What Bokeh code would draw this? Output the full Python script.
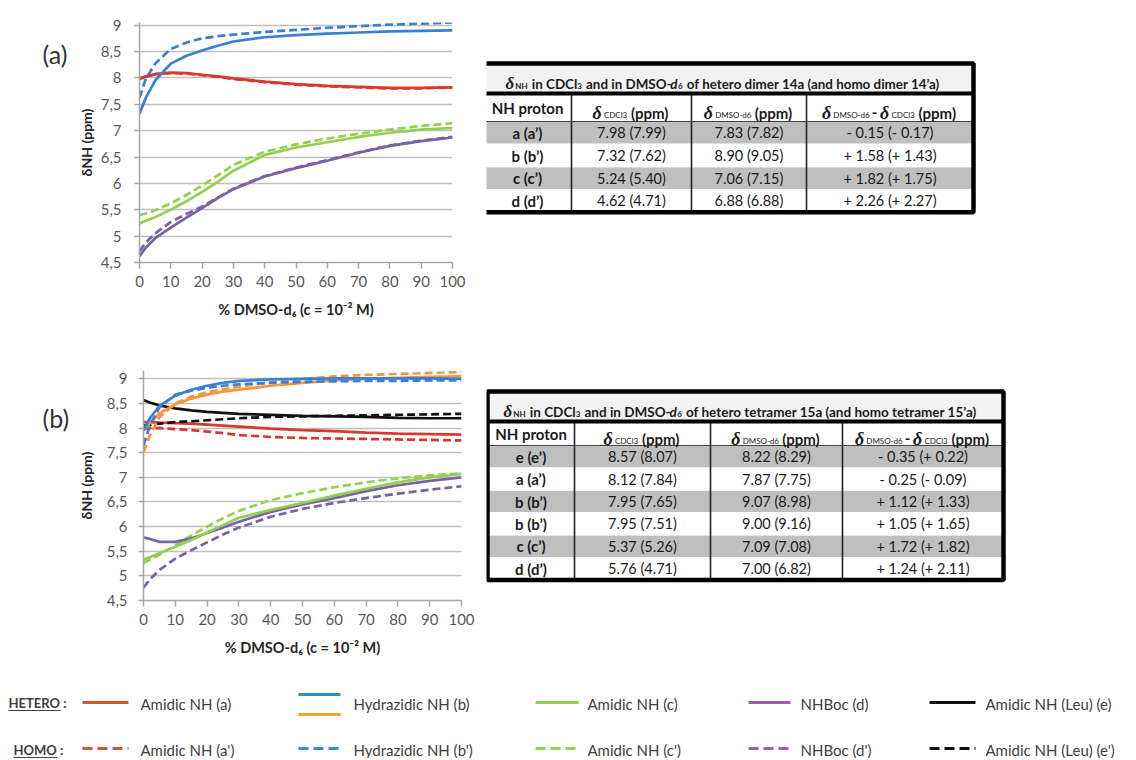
from bokeh.plotting import figure
from bokeh.models import Range1d, FixedTicker, CustomJSTickFormatter
from bokeh.layouts import column, row
from bokeh.embed import file_html
from bokeh.resources import INLINE
from bokeh.core.properties import value

SANS = "Lato"
SERIF = "Liberation Serif"

# ---------------- data ----------------
pct_dmso = [0, 2, 5, 10, 15, 20, 25, 30, 40, 50, 60, 70, 80, 90, 100]
y_ticks = [4.5, 5, 5.5, 6, 6.5, 7, 7.5, 8, 8.5, 9]
x_ticks = [0, 10, 20, 30, 40, 50, 60, 70, 80, 90, 100]

# (a) hetero dimer 14a (solid) / homo dimer 14'a (dashed)
a_amid_a = [7.98, 8.02, 8.07, 8.10, 8.09, 8.06, 8.03, 7.99, 7.93, 7.88, 7.85, 7.83, 7.81, 7.81, 7.82]
a_amid_a2 = [7.99, 8.03, 8.07, 8.09, 8.08, 8.05, 8.02, 7.98, 7.92, 7.87, 7.84, 7.82, 7.80, 7.80, 7.82]
a_hydr_b = [7.32, 7.62, 7.95, 8.27, 8.42, 8.52, 8.61, 8.69, 8.77, 8.81, 8.84, 8.86, 8.88, 8.89, 8.90]
a_hydr_b2 = [7.62, 7.98, 8.27, 8.55, 8.67, 8.75, 8.79, 8.82, 8.87, 8.91, 8.95, 8.98, 9.01, 9.03, 9.05]
a_amid_c = [5.24, 5.29, 5.36, 5.50, 5.66, 5.84, 6.03, 6.24, 6.54, 6.68, 6.78, 6.88, 6.96, 7.02, 7.05]
a_amid_c2 = [5.40, 5.43, 5.49, 5.62, 5.78, 5.96, 6.15, 6.35, 6.60, 6.74, 6.85, 6.94, 7.02, 7.09, 7.14]
a_boc_d = [4.62, 4.78, 4.96, 5.16, 5.35, 5.53, 5.72, 5.89, 6.13, 6.29, 6.43, 6.58, 6.71, 6.80, 6.87]
a_boc_d2 = [4.71, 4.88, 5.05, 5.27, 5.42, 5.56, 5.73, 5.90, 6.14, 6.30, 6.44, 6.59, 6.72, 6.81, 6.88]

# (b) hetero tetramer 15a (solid) / homo tetramer 15'a (dashed)
b_leu_e = [8.57, 8.52, 8.46, 8.40, 8.36, 8.33, 8.31, 8.29, 8.27, 8.25, 8.24, 8.23, 8.21, 8.20, 8.20]
b_leu_e2 = [8.05, 8.07, 8.09, 8.12, 8.14, 8.16, 8.18, 8.20, 8.23, 8.24, 8.25, 8.26, 8.27, 8.28, 8.29]
b_amid_a = [8.12, 8.12, 8.11, 8.10, 8.09, 8.07, 8.05, 8.03, 7.99, 7.96, 7.94, 7.91, 7.89, 7.88, 7.87]
b_amid_a2 = [7.98, 8.00, 8.00, 7.98, 7.96, 7.93, 7.90, 7.86, 7.82, 7.80, 7.79, 7.78, 7.77, 7.76, 7.75]
b_hydr_b_blue = [7.95, 8.20, 8.45, 8.66, 8.78, 8.86, 8.92, 8.96, 8.99, 9.00, 9.01, 9.01, 9.01, 9.01, 9.00]
b_hydr_b2_blue = [7.65, 8.05, 8.42, 8.68, 8.76, 8.82, 8.86, 8.89, 8.92, 8.94, 8.95, 8.96, 8.96, 8.97, 8.97]
b_hydr_b_orange = [7.95, 8.10, 8.30, 8.48, 8.60, 8.68, 8.74, 8.78, 8.86, 8.92, 8.97, 9.00, 9.02, 9.04, 9.05]
b_hydr_b2_orange = [7.51, 7.85, 8.22, 8.50, 8.64, 8.73, 8.79, 8.84, 8.93, 9.00, 9.05, 9.08, 9.10, 9.12, 9.14]
b_amid_c = [5.33, 5.38, 5.46, 5.59, 5.73, 5.88, 6.03, 6.18, 6.34, 6.48, 6.63, 6.77, 6.90, 7.00, 7.07]
b_amid_c2 = [5.26, 5.33, 5.43, 5.62, 5.82, 6.00, 6.17, 6.32, 6.54, 6.68, 6.80, 6.90, 6.98, 7.04, 7.08]
b_boc_d = [5.78, 5.75, 5.69, 5.69, 5.76, 5.87, 5.98, 6.10, 6.30, 6.45, 6.58, 6.72, 6.84, 6.93, 7.00]
b_boc_d2 = [4.76, 4.93, 5.12, 5.35, 5.52, 5.68, 5.84, 5.98, 6.20, 6.36, 6.48, 6.58, 6.67, 6.75, 6.82]

# tables
t1_title = ["δ", "NH", "in CDCl", "3", "and in DMSO-", "d", "6", "of hetero dimer 14a (and homo dimer 14’a)"]
t1_rows = ["a (a’)", "b (b’)", "c (c’)", "d (d’)"]
t1_cdcl3 = ["7.98 (7.99)", "7.32 (7.62)", "5.24 (5.40)", "4.62 (4.71)"]
t1_dmso = ["7.83 (7.82)", "8.90 (9.05)", "7.06 (7.15)", "6.88 (6.88)"]
t1_delta = ["- 0.15 (- 0.17)", "+ 1.58 (+ 1.43)", "+ 1.82 (+ 1.75)", "+ 2.26 (+ 2.27)"]

t2_title = ["δ", "NH", "in CDCl", "3", "and in DMSO-", "d", "6", "of hetero tetramer 15a (and homo tetramer 15’a)"]
t2_rows = ["e (e’)", "a (a’)", "b (b’)", "b (b’)", "c (c’)", "d (d’)"]
t2_cdcl3 = ["8.57 (8.07)", "8.12 (7.84)", "7.95 (7.65)", "7.95 (7.51)", "5.37 (5.26)", "5.76 (4.71)"]
t2_dmso = ["8.22 (8.29)", "7.87 (7.75)", "9.07 (8.98)", "9.00 (9.16)", "7.09 (7.08)", "7.00 (6.82)"]
t2_delta = ["- 0.35 (+ 0.22)", "- 0.25 (- 0.09)", "+ 1.12 (+ 1.33)", "+ 1.05 (+ 1.65)", "+ 1.72 (+ 1.82)", "+ 1.24 (+ 2.11)"]

col_header_first = "NH proton"
sub_cdcl3 = "CDCl3"
sub_dmso = "DMSO-d6"

legend_hetero = ["Amidic NH (a)", "Hydrazidic NH (b)", "Amidic NH (c)", "NHBoc (d)", "Amidic NH (Leu) (e)"]
legend_homo = ["Amidic NH (a')", "Hydrazidic NH (b')", "Amidic NH (c')", "NHBoc (d')", "Amidic NH (Leu) (e')"]

# ---------------- styles ----------------
RED, BLUE, ORANGE, GREEN, PURPLE, BLACK = "#d9382c", "#3a7fd4", "#f7963c", "#92d050", "#7b62a3", "#111111"
L_RED, L_BLUE, L_ORANGE, L_GREEN, L_PURPLE = "#cd5b2a", "#2e8fd6", "#f79a3a", "#92d050", "#9c5fa8"
DASH = "8 4"
TXT = "#1a1a1a"

CW = {' ': .2, '.': .23, ',': .23, ':': .23, '(': .3, ')': .3, '-': .34, "'": .2, '’': .2,
      'a': .5, 'b': .56, 'c': .46, 'd': .56, 'e': .52, 'f': .32, 'g': .5, 'h': .56, 'i': .24, 'j': .24,
      'k': .5, 'l': .24, 'm': .84, 'n': .56, 'o': .56, 'p': .56, 'q': .56, 'r': .37, 's': .42, 't': .36,
      'u': .56, 'v': .5, 'w': .76, 'x': .49, 'y': .5, 'z': .45,
      'A': .68, 'B': .64, 'C': .66, 'D': .74, 'E': .56, 'F': .54, 'G': .72, 'H': .76, 'I': .28, 'K': .66,
      'L': .5, 'M': .9, 'N': .76, 'O': .8, 'P': .6, 'R': .63, 'S': .52, 'T': .58, 'U': .73}


def tw(s, size, bold=False, font=SANS):
    if font == SERIF:
        return 0.52 * size * len(s)
    w = 0.0
    for ch in s:
        w += 0.58 if ch.isdigit() else CW.get(ch, .55)
    return w * size * (1.03 if bold else 1.0)


# ---------------- page geometry (page pixels) ----------------
TAG_W, CHART_W, TABLE_W = 74, 412, 644
R1_H, R2_H, LEG_H = 348, 325, 85
R1_T, R2_T, LEG_T = 0, R1_H, R1_H + R2_H
A_MT, A_MB = 22, 86
B_MT, B_MB = 22, 73


def chart(series, ymax, ml, mr, mt, mb, h, ylab_standoff, lab_standoff):
    p = figure(width=CHART_W, height=h, x_range=Range1d(0, 100), y_range=Range1d(4.5, ymax),
               output_backend="svg", toolbar_location=None,
               min_border_left=ml, min_border_right=mr, min_border_top=mt, min_border_bottom=mb)
    p.outline_line_color = None
    p.xgrid.visible = False
    p.ygrid.grid_line_color = "#bfbfbf"
    p.ygrid.grid_line_width = 1.5
    p.xaxis.ticker = FixedTicker(ticks=x_ticks)
    p.yaxis.ticker = FixedTicker(ticks=y_ticks)
    p.yaxis.formatter = CustomJSTickFormatter(code="return tick.toString().replace('.', ',');")
    for ax in (p.xaxis[0], p.yaxis[0]):
        ax.axis_line_color = "#a6a6a6"
        ax.axis_line_width = 1.5
        ax.major_tick_line_color = "#a6a6a6"
        ax.major_tick_line_width = 1.5
        ax.major_tick_in = 0
        ax.minor_tick_line_color = None
        ax.major_label_text_font = SANS
        ax.major_label_text_font_size = "15px"
        ax.major_label_text_color = "#595959"
        ax.axis_label_text_font = SANS
        ax.axis_label_text_font_style = "bold"
        ax.axis_label_text_color = "#262626"
    p.xaxis.major_tick_out = 6
    p.yaxis.major_tick_out = 5
    p.xaxis.major_label_standoff = 7
    p.yaxis.major_label_standoff = lab_standoff
    p.xaxis.axis_label = "% DMSO-d₆ (c = 10⁻² M)"
    p.xaxis.axis_label_text_font_size = "14.5px"
    p.xaxis.axis_label_standoff = 11
    p.yaxis.axis_label = "δNH (ppm)"
    p.yaxis.axis_label_text_font_size = "14px"
    p.yaxis.axis_label_standoff = ylab_standoff
    for ys, color, dash in series:
        p.line(pct_dmso, ys, line_color=color, line_width=2.7, line_dash=dash)
    return p


def blank(xr, yr, w, h, mt=0, mb=0):
    p = figure(width=w, height=h, x_range=Range1d(*xr), y_range=Range1d(*yr),
               output_backend="svg", toolbar_location=None, min_border=0,
               min_border_top=mt, min_border_bottom=mb,
               x_axis_location=None, y_axis_location=None)
    p.grid.visible = False
    p.outline_line_color = None
    return p


def put(p, x, y, t, size, style="normal", font=SANS, align="center", baseline="middle", color=TXT):
    p.text(x=[x], y=[y], text=[t], text_font=value(font), text_font_style=style,
           text_font_size=f"{size:.1f}px", text_align=align, text_baseline=baseline, text_color=color)


def compose(p, cx, base, parts, align="center"):
    # parts: (text, font, style, size, dy, gap_before)
    widths = [tw(t, s, "bold" in st, f) for t, f, st, s, dy, g in parts]
    total = sum(widths) + sum(g for *_, g in parts)
    x = cx - total / 2 if align == "center" else cx
    for (t, f, st, s, dy, g), wdt in zip(parts, widths):
        x += g
        put(p, x, base + dy, t, s, st, f, "left", "alphabetic")
        x += wdt


def header_parts(kind):
    big = 15
    d = ("δ", SERIF, "bold italic", 18, 0, 0)
    if kind == "c":
        return [d, (sub_cdcl3, SANS, "normal", 8, 2, 2), ("(ppm)", SANS, "bold", big, 0, 4)]
    if kind == "d":
        return [d, (sub_dmso, SANS, "normal", 8, 2, 2), ("(ppm)", SANS, "bold", big, 0, 4)]
    return [d, (sub_dmso, SANS, "normal", 8, 2, 2), ("-", SANS, "bold", big, 0, 3),
            ("δ", SERIF, "bold italic", 18, 0, 3), (sub_cdcl3, SANS, "normal", 8, 2, 2),
            ("(ppm)", SANS, "bold", big, 0, 4)]


def draw_table(p, xs, top, sep, hdr, row_h, title, title_x, title_w, labels, c2, c3, c4):
    n = len(labels)
    bottom = hdr + n * row_h
    p.quad(left=[xs[0]], right=[xs[-1]], top=[top], bottom=[sep], fill_color="#f2f2f2", line_color=None)
    p.quad(left=[xs[0]], right=[xs[-1]], top=[sep], bottom=[hdr], fill_color="white", line_color=None)
    tops = [hdr + i * row_h for i in range(n)]
    p.quad(left=[xs[0]] * n, right=[xs[-1]] * n, top=tops, bottom=[t + row_h for t in tops],
           fill_color=["#bfbfbf" if i % 2 == 0 else "white" for i in range(n)],
           line_color="white", line_width=1)
    p.segment(x0=xs[1:-1], y0=[sep] * 3, x1=xs[1:-1], y1=[bottom] * 3, line_color="#222222", line_width=1.6)
    p.segment(x0=[xs[0]], y0=[hdr], x1=[xs[-1]], y1=[hdr], line_color="#444444", line_width=1)
    p.segment(x0=[xs[0]], y0=[sep], x1=[xs[-1]], y1=[sep], line_color="black", line_width=4)
    p.quad(left=[xs[0]], right=[xs[-1]], top=[top], bottom=[bottom], fill_color=None,
           line_color="black", line_width=4.5)
    # title, scaled to the reference width
    main = [2, 4, 5, 7]
    base_parts = [(title[0], SERIF, "bold italic", 17, 0, 0), (title[1], SANS, "bold", 8, 2, 1),
                  (title[2], SANS, "bold", 1, 0, 4), (title[3], SANS, "bold", 8, 2, 0),
                  (title[4], SANS, "bold", 1, 0, 4), (title[5], SANS, "bold italic", 1, 0, 0),
                  (title[6], SANS, "bold", 8, 2, 0), (title[7], SANS, "bold", 1, 0, 4)]
    fixed = sum(g + (0 if i in main else tw(t, s, True, f)) for i, (t, f, st, s, dy, g) in enumerate(base_parts))
    unit = sum(tw(base_parts[i][0], 1, True) for i in main)
    fs = 0.97 * (title_w - fixed) / unit
    parts = [(t, f, st, fs if s == 1 else s, dy, g) for t, f, st, s, dy, g in base_parts]
    compose(p, title_x, (top + sep) / 2 + 5, parts, align="left")
    # header
    hy = (sep + hdr) / 2
    put(p, (xs[0] + xs[1]) / 2, hy, col_header_first, 15, "bold")
    for j, kind in enumerate(["c", "d", "dc"]):
        compose(p, (xs[j + 1] + xs[j + 2]) / 2, hy + 5, header_parts(kind))
    for i in range(n):
        cy = hdr + (i + 0.5) * row_h
        put(p, (xs[0] + xs[1]) / 2, cy, labels[i], 15, "bold")
        put(p, (xs[1] + xs[2]) / 2, cy, c2[i], 14.5)
        put(p, (xs[2] + xs[3]) / 2, cy, c3[i], 14.5)
        put(p, (xs[3] + xs[4]) / 2, cy, c4[i], 14.5)


# ---------------- row 1 ----------------
tag_a = blank((0, TAG_W), (R1_T + R1_H - A_MB, R1_T + A_MT), TAG_W, R1_H, A_MT, A_MB)
put(tag_a, 42, 53, "(a)", 25, align="left", color="#333333")

chart_a = chart([
    (a_amid_c2, GREEN, DASH), (a_amid_c, GREEN, "solid"),
    (a_boc_d2, PURPLE, DASH), (a_boc_d, PURPLE, "solid"),
    (a_amid_a2, RED, DASH), (a_amid_a, RED, "solid"),
    (a_hydr_b2, BLUE, DASH), (a_hydr_b, BLUE, "solid"),
], 9.05, 136 - TAG_W, CHART_W - (136 - TAG_W) - 316, A_MT, A_MB, R1_H, 3, 13)

table_a = blank((TAG_W + CHART_W, TAG_W + CHART_W + TABLE_W), (R1_T + R1_H - A_MB, R1_T + A_MT),
                TABLE_W, R1_H, A_MT, A_MB)
draw_table(table_a, [483, 571, 691, 806, 973], 63, 93, 121, 22.7,
           t1_title, 505, 448, t1_rows, t1_cdcl3, t1_dmso, t1_delta)

# ---------------- row 2 ----------------
tag_b = blank((0, TAG_W), (R2_T + R2_H - B_MB, R2_T + B_MT), TAG_W, R2_H, B_MT, B_MB)
put(tag_b, 42, 417, "(b)", 25, align="left", color="#333333")

chart_b = chart([
    (b_amid_c2, GREEN, DASH), (b_boc_d2, PURPLE, DASH),
    (b_boc_d, PURPLE, "solid"), (b_amid_c, GREEN, "solid"),
    (b_amid_a2, RED, DASH), (b_amid_a, RED, "solid"),
    (b_leu_e2, BLACK, DASH), (b_leu_e, BLACK, "solid"),
    (b_hydr_b_orange, ORANGE, "solid"), (b_hydr_b2_orange, ORANGE, DASH),
    (b_hydr_b_blue, BLUE, "solid"), (b_hydr_b2_blue, BLUE, DASH),
], 9.17, 143 - TAG_W, CHART_W - (143 - TAG_W) - 318, B_MT, B_MB, R2_H, 9, 11)

table_b = blank((TAG_W + CHART_W, TAG_W + CHART_W + TABLE_W), (R2_T + R2_H - B_MB, R2_T + B_MT),
                TABLE_W, R2_H, B_MT, B_MB)
draw_table(table_b, [487, 574, 710, 842, 1003], 391, 421, 445, 22.4,
           t2_title, 503, 489, t2_rows, t2_cdcl3, t2_dmso, t2_delta)

# ---------------- legend ----------------
LW = TAG_W + CHART_W + TABLE_W
leg = blank((0, LW), (LEG_T + LEG_H, LEG_T), LW, LEG_H)
put(leg, 8, 702, "HETERO :", 13, "bold", align="left", color="#404040")
leg.segment(x0=[8], y0=[710], x1=[8 + tw("HETERO", 13, True)], y1=[710], line_color="#404040", line_width=1.2)
put(leg, 13, 749, "HOMO :", 13, "bold", align="left", color="#404040")
leg.segment(x0=[13], y0=[757], x1=[13 + tw("HOMO", 13, True)], y1=[757], line_color="#404040", line_width=1.2)

line_x0 = [82, 298, 535, 748, 929]
line_x1 = [128, 340, 578, 790, 975]
text_x = [140, 353, 587, 800, 985]
hetero_cols = [L_RED, L_BLUE, L_GREEN, L_PURPLE, BLACK]
for i in range(5):
    yy = 694 if i == 1 else 702
    leg.line([line_x0[i], line_x1[i]], [yy, yy], line_color=hetero_cols[i], line_width=3)
    put(leg, text_x[i], 703, legend_hetero[i], 15, align="left", color="#404040")
    leg.line([line_x0[i], line_x1[i]], [748, 748], line_color=hetero_cols[i], line_width=3, line_dash="10 5")
    put(leg, text_x[i], 749, legend_homo[i], 15, align="left", color="#404040")
leg.line([line_x0[1], line_x1[1]], [714, 714], line_color=L_ORANGE, line_width=3)

layout = column(row(tag_a, chart_a, table_a), row(tag_b, chart_b, table_b), leg)
open("out.html", "w").write(file_html(layout, INLINE))
